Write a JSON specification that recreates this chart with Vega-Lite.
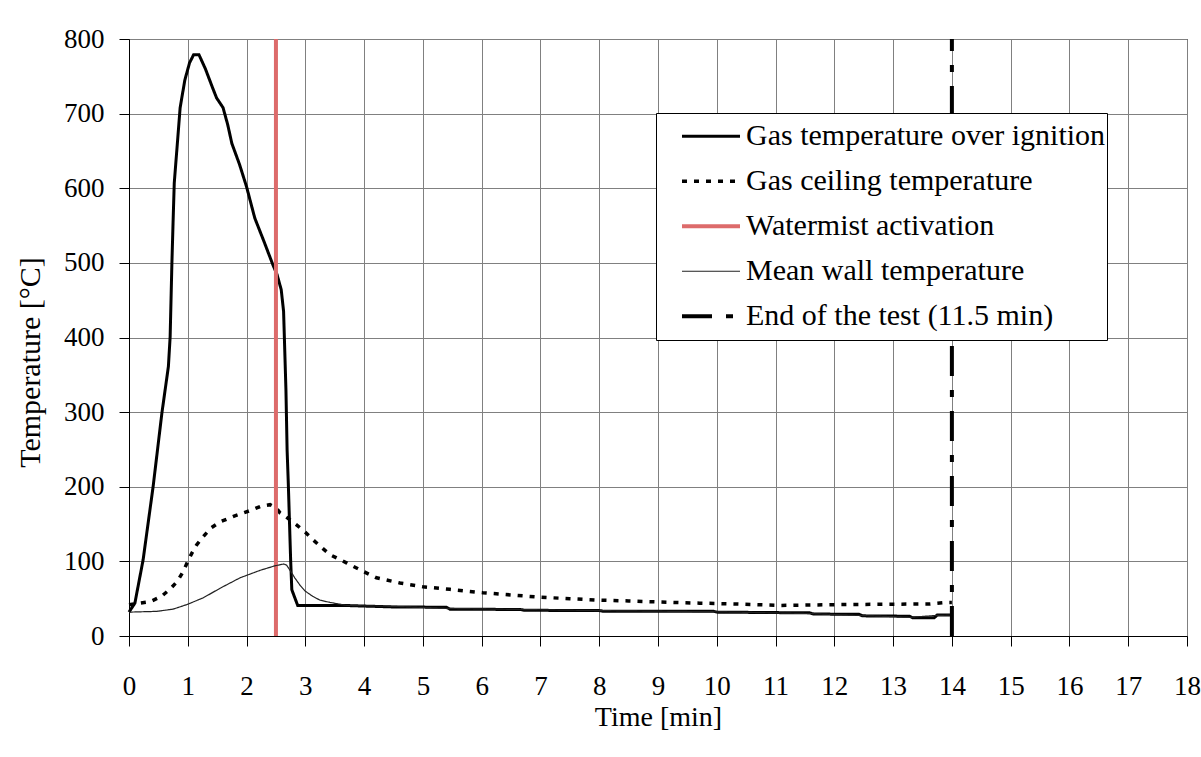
{
  "$schema": "https://vega.github.io/schema/vega-lite/v6.json",
  "width": 1058,
  "height": 597,
  "autosize": {"type": "none"},
  "padding": {"left": 129, "top": 39, "right": 14, "bottom": 121},
  "background": "white",
  "config": {
    "font": "Liberation Serif",
    "view": {"stroke": "black", "strokeWidth": 1},
    "axis": {
      "labelFont": "Liberation Serif",
      "labelFontSize": 27,
      "labelColor": "black",
      "titleFont": "Liberation Serif",
      "titleFontSize": 28,
      "titleFontWeight": "normal",
      "titleColor": "black",
      "domainColor": "black",
      "tickColor": "black",
      "tickSize": 10,
      "gridColor": "#808080",
      "gridWidth": 1,
      "gridOpacity": 1
    },
    "legend": {
      "orient": "none",
      "legendX": 527,
      "legendY": 74,
      "fillColor": "white",
      "strokeColor": "black",
      "strokeWidth": 1,
      "padding": 1,
      "symbolOffset": 23,
      "symbolType": "stroke",
      "symbolSize": 3364,
      "labelFont": "Liberation Serif",
      "labelFontSize": 30,
      "labelColor": "black",
      "labelOffset": 4,
      "labelLimit": 0,
      "rowPadding": 0,
      "clipHeight": 44.5,
      "title": null
    }
  },
  "data": {
    "values": [
      {"s": "Gas temperature over ignition", "t": 0, "T": 32},
      {"s": "Gas temperature over ignition", "t": 0.1, "T": 44},
      {"s": "Gas temperature over ignition", "t": 0.24, "T": 102},
      {"s": "Gas temperature over ignition", "t": 0.41, "T": 200},
      {"s": "Gas temperature over ignition", "t": 0.56, "T": 299},
      {"s": "Gas temperature over ignition", "t": 0.67, "T": 361},
      {"s": "Gas temperature over ignition", "t": 0.7, "T": 401},
      {"s": "Gas temperature over ignition", "t": 0.73, "T": 500},
      {"s": "Gas temperature over ignition", "t": 0.75, "T": 555},
      {"s": "Gas temperature over ignition", "t": 0.77, "T": 607},
      {"s": "Gas temperature over ignition", "t": 0.87, "T": 708},
      {"s": "Gas temperature over ignition", "t": 0.95, "T": 745},
      {"s": "Gas temperature over ignition", "t": 1.03, "T": 768},
      {"s": "Gas temperature over ignition", "t": 1.1, "T": 779},
      {"s": "Gas temperature over ignition", "t": 1.19, "T": 779},
      {"s": "Gas temperature over ignition", "t": 1.3, "T": 760},
      {"s": "Gas temperature over ignition", "t": 1.42, "T": 735},
      {"s": "Gas temperature over ignition", "t": 1.49, "T": 721},
      {"s": "Gas temperature over ignition", "t": 1.6, "T": 708},
      {"s": "Gas temperature over ignition", "t": 1.68, "T": 685},
      {"s": "Gas temperature over ignition", "t": 1.75, "T": 660},
      {"s": "Gas temperature over ignition", "t": 1.88, "T": 632},
      {"s": "Gas temperature over ignition", "t": 2.0, "T": 602},
      {"s": "Gas temperature over ignition", "t": 2.14, "T": 560},
      {"s": "Gas temperature over ignition", "t": 2.3, "T": 528},
      {"s": "Gas temperature over ignition", "t": 2.45, "T": 497},
      {"s": "Gas temperature over ignition", "t": 2.52, "T": 484},
      {"s": "Gas temperature over ignition", "t": 2.59, "T": 464},
      {"s": "Gas temperature over ignition", "t": 2.63, "T": 435},
      {"s": "Gas temperature over ignition", "t": 2.67, "T": 330},
      {"s": "Gas temperature over ignition", "t": 2.69, "T": 249},
      {"s": "Gas temperature over ignition", "t": 2.71, "T": 205},
      {"s": "Gas temperature over ignition", "t": 2.75, "T": 102},
      {"s": "Gas temperature over ignition", "t": 2.77, "T": 62},
      {"s": "Gas temperature over ignition", "t": 2.87, "T": 41},
      {"s": "Gas temperature over ignition", "t": 3.64, "T": 41},
      {"s": "Gas temperature over ignition", "t": 4.47, "T": 39},
      {"s": "Gas temperature over ignition", "t": 5.4, "T": 38.5},
      {"s": "Gas temperature over ignition", "t": 5.46, "T": 36},
      {"s": "Gas temperature over ignition", "t": 6.66, "T": 35.5},
      {"s": "Gas temperature over ignition", "t": 6.72, "T": 34.5},
      {"s": "Gas temperature over ignition", "t": 8.02, "T": 34},
      {"s": "Gas temperature over ignition", "t": 8.08, "T": 33},
      {"s": "Gas temperature over ignition", "t": 9.95, "T": 33},
      {"s": "Gas temperature over ignition", "t": 10.0, "T": 32},
      {"s": "Gas temperature over ignition", "t": 11.58, "T": 31},
      {"s": "Gas temperature over ignition", "t": 11.65, "T": 29.5},
      {"s": "Gas temperature over ignition", "t": 12.42, "T": 29},
      {"s": "Gas temperature over ignition", "t": 12.48, "T": 27},
      {"s": "Gas temperature over ignition", "t": 13.28, "T": 26.5},
      {"s": "Gas temperature over ignition", "t": 13.33, "T": 24.5},
      {"s": "Gas temperature over ignition", "t": 13.7, "T": 24.5},
      {"s": "Gas temperature over ignition", "t": 13.75, "T": 28},
      {"s": "Gas temperature over ignition", "t": 14, "T": 28},
      {"s": "Gas ceiling temperature", "t": 0, "T": 42},
      {"s": "Gas ceiling temperature", "t": 0.36, "T": 46},
      {"s": "Gas ceiling temperature", "t": 0.55, "T": 53},
      {"s": "Gas ceiling temperature", "t": 0.7, "T": 63},
      {"s": "Gas ceiling temperature", "t": 0.82, "T": 73},
      {"s": "Gas ceiling temperature", "t": 0.92, "T": 86},
      {"s": "Gas ceiling temperature", "t": 1.0, "T": 100},
      {"s": "Gas ceiling temperature", "t": 1.07, "T": 111},
      {"s": "Gas ceiling temperature", "t": 1.15, "T": 122},
      {"s": "Gas ceiling temperature", "t": 1.26, "T": 133},
      {"s": "Gas ceiling temperature", "t": 1.4, "T": 145},
      {"s": "Gas ceiling temperature", "t": 1.55, "T": 153},
      {"s": "Gas ceiling temperature", "t": 1.8, "T": 161},
      {"s": "Gas ceiling temperature", "t": 2.06, "T": 168},
      {"s": "Gas ceiling temperature", "t": 2.25, "T": 174},
      {"s": "Gas ceiling temperature", "t": 2.4, "T": 176},
      {"s": "Gas ceiling temperature", "t": 2.5, "T": 172},
      {"s": "Gas ceiling temperature", "t": 2.57, "T": 165},
      {"s": "Gas ceiling temperature", "t": 2.7, "T": 158},
      {"s": "Gas ceiling temperature", "t": 2.85, "T": 149},
      {"s": "Gas ceiling temperature", "t": 3.0, "T": 139},
      {"s": "Gas ceiling temperature", "t": 3.13, "T": 129},
      {"s": "Gas ceiling temperature", "t": 3.3, "T": 117},
      {"s": "Gas ceiling temperature", "t": 3.42, "T": 109},
      {"s": "Gas ceiling temperature", "t": 3.7, "T": 98},
      {"s": "Gas ceiling temperature", "t": 4.0, "T": 86},
      {"s": "Gas ceiling temperature", "t": 4.21, "T": 78},
      {"s": "Gas ceiling temperature", "t": 4.61, "T": 71},
      {"s": "Gas ceiling temperature", "t": 5.0, "T": 66},
      {"s": "Gas ceiling temperature", "t": 5.46, "T": 62.5},
      {"s": "Gas ceiling temperature", "t": 6.02, "T": 58},
      {"s": "Gas ceiling temperature", "t": 6.5, "T": 55},
      {"s": "Gas ceiling temperature", "t": 6.99, "T": 52},
      {"s": "Gas ceiling temperature", "t": 7.5, "T": 50},
      {"s": "Gas ceiling temperature", "t": 8.01, "T": 48},
      {"s": "Gas ceiling temperature", "t": 8.5, "T": 47},
      {"s": "Gas ceiling temperature", "t": 9.03, "T": 45.5},
      {"s": "Gas ceiling temperature", "t": 9.71, "T": 44},
      {"s": "Gas ceiling temperature", "t": 10.3, "T": 43},
      {"s": "Gas ceiling temperature", "t": 11.07, "T": 41},
      {"s": "Gas ceiling temperature", "t": 12.0, "T": 42},
      {"s": "Gas ceiling temperature", "t": 12.78, "T": 42.5},
      {"s": "Gas ceiling temperature", "t": 13.63, "T": 43},
      {"s": "Gas ceiling temperature", "t": 13.91, "T": 45},
      {"s": "Gas ceiling temperature", "t": 14, "T": 45},
      {"s": "Watermist activation", "t": 2.5, "T": 0},
      {"s": "Watermist activation", "t": 2.5, "T": 800},
      {"s": "Mean wall temperature", "t": 0, "T": 32},
      {"s": "Mean wall temperature", "t": 0.47, "T": 33},
      {"s": "Mean wall temperature", "t": 0.75, "T": 36},
      {"s": "Mean wall temperature", "t": 0.98, "T": 42},
      {"s": "Mean wall temperature", "t": 1.26, "T": 51},
      {"s": "Mean wall temperature", "t": 1.55, "T": 64},
      {"s": "Mean wall temperature", "t": 1.89, "T": 78},
      {"s": "Mean wall temperature", "t": 2.23, "T": 88},
      {"s": "Mean wall temperature", "t": 2.48, "T": 94},
      {"s": "Mean wall temperature", "t": 2.63, "T": 96.5},
      {"s": "Mean wall temperature", "t": 2.68, "T": 95},
      {"s": "Mean wall temperature", "t": 2.74, "T": 88},
      {"s": "Mean wall temperature", "t": 2.82, "T": 78},
      {"s": "Mean wall temperature", "t": 2.91, "T": 68},
      {"s": "Mean wall temperature", "t": 3.0, "T": 60},
      {"s": "Mean wall temperature", "t": 3.13, "T": 53},
      {"s": "Mean wall temperature", "t": 3.25, "T": 48},
      {"s": "Mean wall temperature", "t": 3.42, "T": 45},
      {"s": "Mean wall temperature", "t": 3.7, "T": 41},
      {"s": "Mean wall temperature", "t": 4.0, "T": 40.5},
      {"s": "Mean wall temperature", "t": 4.6, "T": 39.5},
      {"s": "Mean wall temperature", "t": 5.43, "T": 37},
      {"s": "Mean wall temperature", "t": 6.68, "T": 35.5},
      {"s": "Mean wall temperature", "t": 8.04, "T": 34},
      {"s": "Mean wall temperature", "t": 9.97, "T": 32.5},
      {"s": "Mean wall temperature", "t": 11.61, "T": 30},
      {"s": "Mean wall temperature", "t": 12.44, "T": 27.5},
      {"s": "Mean wall temperature", "t": 13.31, "T": 25},
      {"s": "Mean wall temperature", "t": 13.71, "T": 27.5},
      {"s": "Mean wall temperature", "t": 14, "T": 28},
      {"s": "End of the test (11.5 min)", "t": 14, "T": 0},
      {"s": "End of the test (11.5 min)", "t": 14, "T": 800}
    ]
  },
  "mark": {"type": "line", "strokeCap": "butt"},
  "encoding": {
    "x": {
      "field": "t",
      "type": "quantitative",
      "title": "Time [min]",
      "scale": {"domain": [0, 18], "nice": false, "zero": false},
      "axis": {
        "values": [0, 1, 2, 3, 4, 5, 6, 7, 8, 9, 10, 11, 12, 13, 14, 15, 16, 17, 18],
        "labelPadding": 27,
        "titlePadding": 4,
        "labelFlush": false,
        "labelOverlap": false
      }
    },
    "y": {
      "field": "T",
      "type": "quantitative",
      "title": "Temperature [°C]",
      "scale": {"domain": [0, 800], "nice": false},
      "axis": {
        "values": [0, 100, 200, 300, 400, 500, 600, 700, 800],
        "labelPadding": 15,
        "titlePadding": 18,
        "titleFontSize": 30,
        "titleY": 323,
        "labelOverlap": false
      }
    },
    "color": {
      "field": "s",
      "type": "nominal",
      "scale": {
        "domain": ["Gas temperature over ignition", "Gas ceiling temperature", "Watermist activation", "Mean wall temperature", "End of the test (11.5 min)"],
        "range": ["black", "black", "#dd6b6b", "#222222", "black"]
      }
    },
    "strokeDash": {
      "field": "s",
      "type": "nominal",
      "scale": {
        "domain": ["Gas temperature over ignition", "Gas ceiling temperature", "Watermist activation", "Mean wall temperature", "End of the test (11.5 min)"],
        "range": [[1, 0], [5, 7], [1, 0], [1, 0], [30, 14, 7, 14]]
      }
    },
    "strokeWidth": {
      "field": "s",
      "type": "nominal",
      "scale": {
        "type": "ordinal",
        "domain": ["Gas temperature over ignition", "Gas ceiling temperature", "Watermist activation", "Mean wall temperature", "End of the test (11.5 min)"],
        "range": [3, 3.5, 4, 1.2, 4]
      }
    }
  }
}
